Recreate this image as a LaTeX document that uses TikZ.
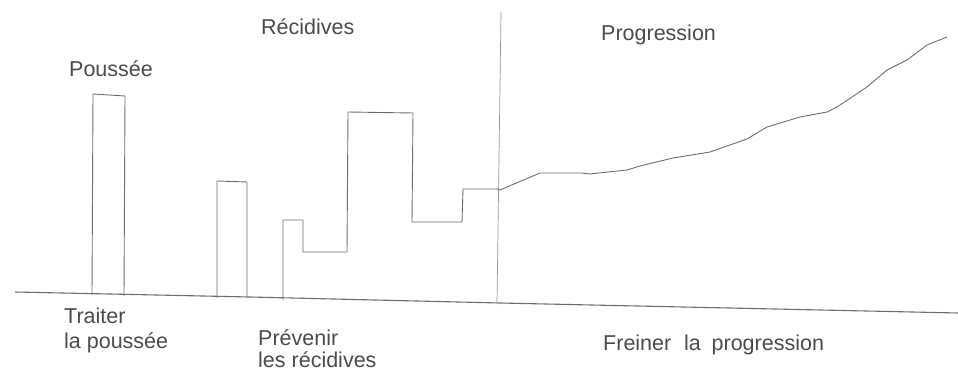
\documentclass[tikz,border=0pt]{standalone}
\usepackage{fontspec}
\setmainfont{Liberation Sans}
\definecolor{ink}{RGB}{75,75,75}
\definecolor{trace}{RGB}{110,110,110}
\definecolor{divider}{RGB}{150,150,150}
\tikzset{
  lbl/.style={anchor=base west, inner sep=0pt, text=ink, font=\fontsize{21.5}{26}\selectfont},
  curve/.style={draw=trace, line width=0.9pt, line join=round},
}
\begin{document}
\begin{tikzpicture}[x=1pt,y=-1pt]
\useasboundingbox (0,0) rectangle (958,371);

% time axis
\draw[curve, line width=1.1pt] (15,292) -- (250,297) -- (500,303) -- (958,313);

% separation between relapsing and progressive phases
\draw[draw=divider, line width=0.7pt] (501,12) -- (497,304);

% isolated flare
\draw[curve] (92,295) -- (93,94) -- (125,96) -- (124,296);
% first relapse
\draw[curve] (217,298) -- (217,181) -- (247,182) -- (247,298);
% relapses with residual disability, then progression
\draw[curve] (283,300) -- (283,220) -- (303,220) -- (303,252) -- (347,252)
  -- (348,112) -- (413,113) -- (412,222) -- (462,222) -- (463,189) -- (497,189)
  -- (500,190) -- (540,173) -- (582,173) -- (590,174) -- (627,170) -- (640,166)
  -- (673,158) -- (710,152) -- (747,139) -- (767,127) -- (800,117) -- (827,112)
  -- (837,107) -- (867,87) -- (887,70) -- (907,60) -- (927,45) -- (947,37);

% phase titles
\node[lbl] (poussee) at (69,77) {Poussée};
\node[lbl] (recidives) at (261,35) {Récidives};
\node[lbl] (progression) at (601,41) {Progression};

% therapeutic aims
\node[lbl] (traiter) at (64,323) {Traiter};
\node[lbl] (traiter2) at (64,348) {la poussée};
\node[lbl] (prevenir) at (258,345) {Prévenir};
\node[lbl] (prevenir2) at (258,367) {les récidives};
\node[lbl] (freiner) at (603,350) {Freiner\hspace{0.6em}la\hspace{0.5em}progression};
\end{tikzpicture}
\end{document}
